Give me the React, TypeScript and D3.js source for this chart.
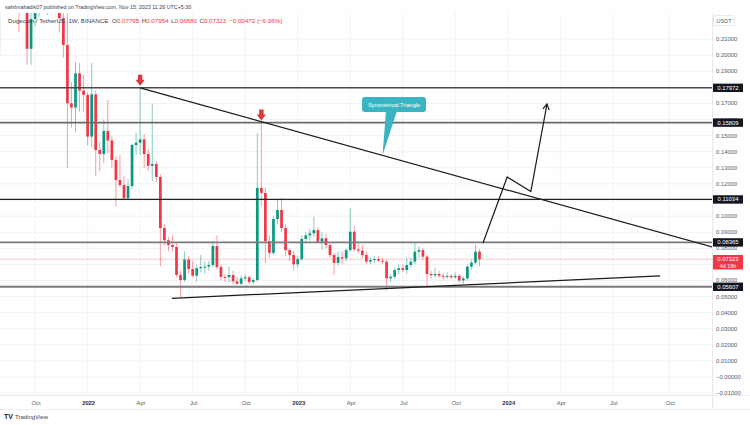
import React from "react";
import * as d3 from "d3";

// ---------- data ----------
const FIRST_WEEK = "2021-08-02";
const LAST_WEEK = "2023-11-13";

const opens = [
  0.2005, 0.2537, 0.3164, 0.314, 0.292, 0.296, 0.245, 0.232, 0.204, 0.2225,
  0.24, 0.241, 0.259, 0.283, 0.265, 0.26, 0.223, 0.2063, 0.1701, 0.1675,
  0.1887, 0.178, 0.1753, 0.1494, 0.1757, 0.1411, 0.1386, 0.1529, 0.147, 0.1349,
  0.1224, 0.1193, 0.1111, 0.1187, 0.1442, 0.1456, 0.1477, 0.1386, 0.1313, 0.1324,
  0.1243, 0.0926, 0.085, 0.082, 0.0808, 0.0634, 0.0603, 0.073, 0.0671, 0.063,
  0.0676, 0.0684, 0.0686, 0.0696, 0.0814, 0.0684, 0.0622, 0.062, 0.0634, 0.0595,
  0.058, 0.0613, 0.062, 0.059, 0.0603, 0.1175, 0.1144, 0.0845, 0.0771, 0.0982,
  0.1038, 0.0926, 0.0789, 0.0758, 0.07, 0.0733, 0.0858, 0.088, 0.0893, 0.0913,
  0.0841, 0.0862, 0.082, 0.0758, 0.0709, 0.0746, 0.0738, 0.0789, 0.0903, 0.0793,
  0.0785, 0.0758, 0.0717, 0.0727, 0.0733, 0.0723, 0.0717, 0.0613, 0.0623, 0.0665,
  0.0676, 0.0665, 0.0696, 0.0717, 0.0779, 0.0789, 0.0748, 0.064, 0.0632, 0.064,
  0.063, 0.0625, 0.0628, 0.062, 0.0628, 0.06, 0.0613, 0.0686, 0.0711, 0.07795,
];
const highs = [
  0.2624, 0.332, 0.35, 0.327, 0.318, 0.325, 0.262, 0.245, 0.24, 0.259,
  0.245, 0.272, 0.304, 0.294, 0.282, 0.262, 0.232, 0.228, 0.183, 0.196,
  0.195, 0.188, 0.177, 0.195, 0.178, 0.146, 0.16, 0.1722, 0.15, 0.137,
  0.138, 0.125, 0.123, 0.145, 0.152, 0.1797, 0.151, 0.142, 0.17, 0.134,
  0.126, 0.095, 0.087, 0.088, 0.083, 0.066, 0.078, 0.075, 0.072, 0.07,
  0.0758, 0.072, 0.072, 0.0845, 0.088, 0.07, 0.064, 0.0686, 0.066, 0.0625,
  0.063, 0.064, 0.063, 0.0615, 0.1517, 0.1581, 0.118, 0.088, 0.1, 0.11,
  0.1113, 0.095, 0.08, 0.078, 0.075, 0.088, 0.09, 0.092, 0.0995, 0.093,
  0.09, 0.089, 0.083, 0.077, 0.078, 0.078, 0.08, 0.1048, 0.094, 0.083,
  0.082, 0.078, 0.074, 0.075, 0.075, 0.074, 0.073, 0.064, 0.068, 0.07,
  0.07, 0.074, 0.074, 0.0831, 0.081, 0.08, 0.076, 0.066, 0.068, 0.066,
  0.0645, 0.065, 0.064, 0.065, 0.064, 0.0625, 0.07, 0.073, 0.082, 0.07954,
];
const lows = [
  0.1955, 0.247, 0.279, 0.271, 0.272, 0.214, 0.229, 0.194, 0.194, 0.218,
  0.224, 0.237, 0.225, 0.255, 0.255, 0.214, 0.1985, 0.13, 0.155, 0.152,
  0.165, 0.165, 0.144, 0.143, 0.125, 0.128, 0.133, 0.139, 0.13, 0.1058,
  0.118, 0.11, 0.11, 0.117, 0.138, 0.138, 0.13, 0.128, 0.122, 0.121,
  0.069, 0.082, 0.078, 0.078, 0.062, 0.049, 0.059, 0.064, 0.062, 0.059,
  0.065, 0.064, 0.066, 0.068, 0.067, 0.06, 0.059, 0.059, 0.0575, 0.0572,
  0.0572, 0.0595, 0.0578, 0.0576, 0.059, 0.106, 0.0709, 0.074, 0.076, 0.095,
  0.09, 0.075, 0.072, 0.0665, 0.068, 0.072, 0.083, 0.085, 0.087, 0.083,
  0.079, 0.08, 0.074, 0.0634, 0.069, 0.07, 0.072, 0.078, 0.078, 0.077,
  0.074, 0.07, 0.07, 0.071, 0.0715, 0.07, 0.054, 0.059, 0.061, 0.064,
  0.065, 0.064, 0.068, 0.07, 0.074, 0.073, 0.0555, 0.061, 0.062, 0.0615,
  0.06, 0.061, 0.061, 0.061, 0.0585, 0.058, 0.06, 0.067, 0.07, 0.0688,
];
const closes = [
  0.2537, 0.3164, 0.314, 0.292, 0.296, 0.245, 0.232, 0.204, 0.2225, 0.24,
  0.241, 0.259, 0.283, 0.265, 0.26, 0.223, 0.2063, 0.1701, 0.1675, 0.1887,
  0.178, 0.1753, 0.1494, 0.1757, 0.1411, 0.1386, 0.1529, 0.147, 0.1349, 0.1224,
  0.1193, 0.1111, 0.1187, 0.1442, 0.1456, 0.1477, 0.1386, 0.1313, 0.1324, 0.1243,
  0.0926, 0.085, 0.082, 0.0808, 0.0634, 0.0603, 0.073, 0.0671, 0.063, 0.0676,
  0.0684, 0.0686, 0.0696, 0.0814, 0.0684, 0.0622, 0.062, 0.0634, 0.0595, 0.058,
  0.0613, 0.062, 0.059, 0.0603, 0.1175, 0.1144, 0.0845, 0.0771, 0.0982, 0.1038,
  0.0926, 0.0789, 0.0758, 0.07, 0.0733, 0.0858, 0.088, 0.0893, 0.0913, 0.0841,
  0.0862, 0.082, 0.0758, 0.0709, 0.0746, 0.0738, 0.0789, 0.0903, 0.0793, 0.0785,
  0.0758, 0.0717, 0.0727, 0.0733, 0.0723, 0.0717, 0.0613, 0.0623, 0.0665, 0.0676,
  0.0665, 0.0696, 0.0717, 0.0779, 0.0789, 0.0748, 0.064, 0.0632, 0.064, 0.063,
  0.0625, 0.0628, 0.062, 0.0628, 0.06, 0.0613, 0.0686, 0.0711, 0.07795, 0.07323,
];

const priceTickValues = [0.21, 0.2, 0.19, 0.18, 0.17, 0.16, 0.15, 0.14, 0.13, 0.12, 0.11, 0.1, 0.09, 0.08, 0.07, 0.06, 0.05, 0.04, 0.03, 0.02, 0.01, 0, -0.01];
const priceTickLabels = ["0.21000", "0.20000", "0.19000", "0.18000", "0.17000", "0.16000", "0.15000", "0.14000", "0.13000", "0.12000", "0.11000", "0.10000", "0.09000", "0.08000", "0.07000", "0.06000", "0.05000", "0.04000", "0.03000", "0.02000", "0.01000", "\u22120.00000", "\u22120.01000"];

const timeTickDates = ["2021-10-04", "2022-01-03", "2022-04-04", "2022-07-04", "2022-10-03", "2023-01-02", "2023-04-03", "2023-07-03", "2023-10-02", "2024-01-01", "2024-04-01", "2024-07-01", "2024-10-07"];
const timeTickLabels = ["Oct", "2022", "Apr", "Jul", "Oct", "2023", "Apr", "Jul", "Oct", "2024", "Apr", "Jul", "Oct"];

const levelPrices = [0.17972, 0.15809, 0.11034, 0.08365, 0.05607];
const levelLabels = ["0.17972", "0.15809", "0.11034", "0.08365", "0.05607"];

const lastPrice = 0.07323;
const lastPriceLabel = "0.07323";
const countdownLabel = "4d 19h";

// trendlines (date, price)
const resistanceDates = ["2022-04-04", "2024-12-20"];
const resistancePrices = [0.17972, 0.0808];
const supportDates = ["2022-05-29", "2024-09-21"];
const supportPrices = [0.0489, 0.0628];

// projected path
const projectionDates = ["2023-11-19", "2023-12-31", "2024-02-10", "2024-03-09"];
const projectionPrices = [0.0833, 0.1243, 0.1153, 0.1697];

// arrows marking pivots (week index)
const pivotWeeks = [35, 65];

const calloutText = "Symmetrical Triangle";

// ---------- layout ----------
const W = 750;
const H = 425;
const PANE_R = 712;
const PANE_T = 13;
const PANE_B = 395;
const UP = "#089981";
const DOWN = "#f23645";
const FONT = "'Liberation Sans', Arial, sans-serif";

export default function App() {
  const weeks = d3.utcMonday.range(new Date(FIRST_WEEK), d3.utcDay.offset(new Date(LAST_WEEK), 1));
  const step = 4.04;
  const lastX = 479.5;
  const x = d3
    .scaleUtc()
    .domain([new Date(FIRST_WEEK), new Date(LAST_WEEK)])
    .range([lastX - (weeks.length - 1) * step, lastX]);
  const y = d3.scaleLinear().domain([-0.01, 0.21]).range([393.1, 39.1]);

  const bodyW = 2.7;

  const candles = weeks.map((d, i) => ({
    d,
    o: opens[i],
    h: highs[i],
    l: lows[i],
    c: closes[i],
  }));

  const line = d3
    .line<[number, number]>()
    .x((p) => p[0])
    .y((p) => p[1]);

  const resPts: [number, number][] = resistanceDates.map((d, i) => [x(new Date(d)), y(resistancePrices[i])]);
  const supPts: [number, number][] = supportDates.map((d, i) => [x(new Date(d)), y(supportPrices[i])]);
  const projPts: [number, number][] = projectionDates.map((d, i) => [x(new Date(d)), y(projectionPrices[i])]);

  // arrowhead at end of projection
  const [ex, ey] = projPts[projPts.length - 1];
  const [px, py] = projPts[projPts.length - 2];
  const ang = Math.atan2(ey - py, ex - px);
  const ah = 6.5;
  const a1: [number, number] = [ex - ah * Math.cos(ang - 0.5), ey - ah * Math.sin(ang - 0.5)];
  const a2: [number, number] = [ex - ah * Math.cos(ang + 0.5), ey - ah * Math.sin(ang + 0.5)];

  // callout tip on resistance line
  const tipX = 382.5;
  const t = (tipX - resPts[0][0]) / (resPts[1][0] - resPts[0][0]);
  const tipY = resPts[0][1] + t * (resPts[1][1] - resPts[0][1]);

  const levelStyles = [
    { stroke: "#4a4a4a", w: 1.5 },
    { stroke: "#6a6a6a", w: 1.8 },
    { stroke: "#222222", w: 1.3 },
    { stroke: "#7a7a7a", w: 1.9 },
    { stroke: "#7a7a7a", w: 1.9 },
  ];

  // y positions covered by the axis label boxes (tick labels underneath are hidden)
  const boxYs = [...levelPrices.map((p) => y(p)), y(lastPrice), y(lastPrice) + 6];
  const hidden = (v: number) => boxYs.some((b) => Math.abs(b - y(v)) < 2.5);

  return (
    <svg
      width={W}
      height={H}
      viewBox={`0 0 ${W} ${H}`}
      style={{ position: "absolute", left: 0, top: 0, background: "#ffffff", fontFamily: FONT }}
    >
      <defs>
        <clipPath id="pane">
          <rect x={0} y={PANE_T} width={PANE_R} height={PANE_B - PANE_T} />
        </clipPath>
      </defs>
      <rect x={0} y={0} width={W} height={H} fill="#ffffff" />

      {/* grid */}
      <g clipPath="url(#pane)">
        {priceTickValues.map((v) => (
          <line key={"hg" + v} x1={0} x2={PANE_R} y1={y(v)} y2={y(v)} stroke="#f0f2f6" strokeWidth={1} />
        ))}
        {timeTickDates.map((d) => (
          <line key={"vg" + d} x1={x(new Date(d))} x2={x(new Date(d))} y1={PANE_T} y2={PANE_B} stroke="#f0f2f6" strokeWidth={1} />
        ))}
      </g>

      {/* axis borders */}
      <line x1={PANE_R + 0.5} x2={PANE_R + 0.5} y1={PANE_T} y2={410} stroke="#e6e8ee" strokeWidth={1} />
      <line x1={0} x2={W} y1={PANE_B + 0.5} y2={PANE_B + 0.5} stroke="#eceef2" strokeWidth={1} />
      <line x1={0} x2={W} y1={409.5} y2={409.5} stroke="#eceef2" strokeWidth={1} />

      {/* current price line */}
      <line x1={0} x2={PANE_R} y1={y(lastPrice)} y2={y(lastPrice)} stroke={DOWN} strokeOpacity={0.35} strokeWidth={0.8} />

      {/* candles */}
      <g clipPath="url(#pane)">
        {candles.map((k, i) => {
          const cx = x(k.d);
          const up = k.c >= k.o;
          const col = up ? UP : DOWN;
          const top = y(Math.max(k.o, k.c));
          const bot = y(Math.min(k.o, k.c));
          return (
            <g key={i}>
              <line x1={cx} x2={cx} y1={y(k.h)} y2={y(k.l)} stroke={col} strokeOpacity={0.55} strokeWidth={0.9} />
              <rect x={cx - bodyW / 2} y={top} width={bodyW} height={Math.max(1, bot - top)} fill={col} />
            </g>
          );
        })}
      </g>

      {/* horizontal levels */}
      {levelPrices.map((p, i) => (
        <line key={"lv" + p} x1={0} x2={PANE_R} y1={y(p)} y2={y(p)} stroke={levelStyles[i].stroke} strokeWidth={levelStyles[i].w} />
      ))}

      {/* trendlines */}
      <g clipPath="url(#pane)">
        <path d={line(resPts) ?? ""} fill="none" stroke="#1c1c1c" strokeWidth={1.2} />
        <path d={line(supPts) ?? ""} fill="none" stroke="#1c1c1c" strokeWidth={1.2} />
        <path d={line(projPts) ?? ""} fill="none" stroke="#1c1c1c" strokeWidth={1.2} strokeLinejoin="miter" />
        <path d={line([a1, [ex, ey], a2]) ?? ""} fill="none" stroke="#1c1c1c" strokeWidth={1.2} />
      </g>

      {/* pivot arrows */}
      {pivotWeeks.map((wi) => {
        const cx = x(weeks[wi]);
        const tip = y(highs[wi]) - 2;
        const d = `M${cx - 2.2},${tip - 11} L${cx + 2.2},${tip - 11} L${cx + 2.2},${tip - 6} L${cx + 4.6},${tip - 6} L${cx},${tip} L${cx - 4.6},${tip - 6} L${cx - 2.2},${tip - 6} Z`;
        return <path key={"pv" + wi} d={d} fill="#d83a3a" />;
      })}

      {/* callout */}
      <path d={`M386,111 L397,111 L${tipX},${tipY} Z`} fill="#3ab4c2" />
      <rect x={362} y={97} width={64} height={15} rx={3} fill="#3ab4c2" />
      <text x={394} y={106.6} textAnchor="middle" fontSize={5.6} fill="#ffffff">
        {calloutText}
      </text>

      {/* price axis tick labels */}
      {priceTickValues.map((v, i) =>
        hidden(v) ? null : (
          <text key={"pt" + v} x={716} y={y(v) + 2} fontSize={5.9} fill="#555a66">
            {priceTickLabels[i]}
          </text>
        )
      )}

      {/* level labels */}
      {levelPrices.map((p, i) => (
        <g key={"ll" + p}>
          <rect x={713} y={y(p) - 4.2} width={30} height={8.4} fill="#131722" />
          <text x={728} y={y(p) + 2} textAnchor="middle" fontSize={5.9} fill="#ffffff">
            {levelLabels[i]}
          </text>
        </g>
      ))}

      {/* last price label */}
      <rect x={713} y={y(lastPrice) - 4.2} width={30} height={14.5} fill={DOWN} />
      <text x={728} y={y(lastPrice) + 2} textAnchor="middle" fontSize={5.9} fill="#ffffff">
        {lastPriceLabel}
      </text>
      <text x={728} y={y(lastPrice) + 8.4} textAnchor="middle" fontSize={5.4} fill="#ffffff">
        {countdownLabel}
      </text>

      {/* currency */}
      <rect x={713.5} y={15.5} width={21} height={10} rx={1.5} fill="#ffffff" stroke="#e3e5ea" strokeWidth={0.8} />
      <text x={724} y={22.6} textAnchor="middle" fontSize={5.6} fill="#555a66">
        USDT
      </text>

      {/* time axis labels */}
      {timeTickDates.map((d, i) => {
        const bold = /^\d{4}$/.test(timeTickLabels[i]);
        return (
          <text
            key={"tt" + d}
            x={x(new Date(d)) + 1}
            y={404.5}
            textAnchor="middle"
            fontSize={5.8}
            fontWeight={bold ? 700 : 400}
            fill={bold ? "#2a2e39" : "#555a66"}
          >
            {timeTickLabels[i]}
          </text>
        );
      })}

      {/* header */}
      <text x={5} y={9.3} fontSize={5.35} fill="#3d4150">
        sahilmahadik07 published on TradingView.com, Nov 15, 2023 11:26 UTC+5:30
      </text>
      <text x={8} y={22.8} fontSize={6.2} fill="#3d4150">
        <tspan>Dogecoin / TetherUS, 1W, BINANCE </tspan>
        <tspan dx={2}>O</tspan>
        <tspan fill={DOWN}>0.07795</tspan>
        <tspan dx={2.5}>H</tspan>
        <tspan fill={DOWN}>0.07954</tspan>
        <tspan dx={2.5}>L</tspan>
        <tspan fill={DOWN}>0.06880</tspan>
        <tspan dx={2.5}>C</tspan>
        <tspan fill={DOWN}>0.07323</tspan>
        <tspan dx={3} fill={DOWN}>{"\u22120.00472 (\u22126.06%)"}</tspan>
      </text>

      {/* footer logo */}
      <text x={4} y={419} fontSize={7} fontWeight={700} fill="#131722">
        TV
      </text>
      <text x={15} y={419} fontSize={6} fill="#3d4150">
        TradingView
      </text>
    </svg>
  );
}
